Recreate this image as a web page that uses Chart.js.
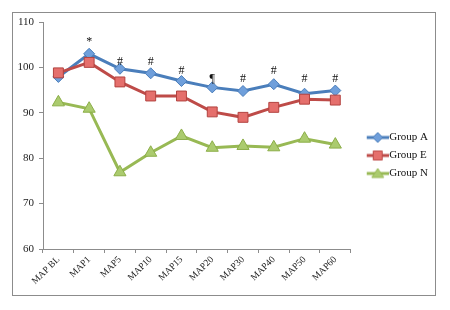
<!DOCTYPE html>
<html>
<head>
<meta charset="utf-8">
<script src="https://cdn.jsdelivr.net/npm/chart.js@4.4.1/dist/chart.umd.min.js"></script>
<style>
  html, body { margin: 0; padding: 0; background: #fff; }
  #wrap { width: 450px; height: 310px; }
</style>
</head>
<body>
<div id="wrap"><canvas id="mapChart" width="450" height="310"></canvas></div>
<script>
var categories = ['MAP BL', 'MAP1', 'MAP5', 'MAP10', 'MAP15', 'MAP20', 'MAP30', 'MAP40', 'MAP50', 'MAP60'];
var groupA = [97.9, 103.0, 99.7, 98.7, 97.0, 95.6, 94.8, 96.3, 94.2, 94.9];
var groupE = [98.8, 101.1, 96.8, 93.7, 93.7, 90.2, 89.0, 91.2, 93.0, 92.8];
var groupN = [92.3, 90.9, 76.9, 81.2, 84.9, 82.3, 82.7, 82.4, 84.3, 83.0];
var yTicks = [60, 70, 80, 90, 100, 110];
// significance marks above each time point, and the level they sit at
var marks = ['', '*', '#', '#', '#', '\u00b6', '#', '#', '#', '#'];
var markLevels = [null, 105.6, 101.2, 101.2, 99.2, 97.4, 97.4, 99.2, 97.4, 97.4];

// little line + marker picture for each legend entry
function legendIcon(line, fill, shape) {
    var c = document.createElement('canvas');
    c.width = 36; c.height = 14;
    var g = c.getContext('2d');
    g.strokeStyle = line;
    g.lineWidth = 3;
    g.beginPath(); g.moveTo(14, 7); g.lineTo(36, 7); g.stroke();
    g.fillStyle = fill;
    g.strokeStyle = line;
    g.lineWidth = 1;
    g.beginPath();
    if (shape === 'diamond') {
        g.moveTo(25, 2); g.lineTo(30, 7); g.lineTo(25, 12); g.lineTo(20, 7);
    } else if (shape === 'square') {
        g.rect(20.5, 2.5, 9, 9);
    } else {
        g.moveTo(25, 2); g.lineTo(31, 11); g.lineTo(19, 11);
    }
    g.closePath(); g.fill(); g.stroke();
    return c;
}

var frame = {
    id: 'frame',
    beforeDraw: function (chart) {
        var ctx = chart.ctx;
        ctx.save();
        ctx.fillStyle = '#fff';
        ctx.fillRect(0, 0, chart.width, chart.height);
        ctx.strokeStyle = '#8c8c8c';
        ctx.lineWidth = 1;
        ctx.strokeRect(12.5, 12.5, 423, 283);
        ctx.restore();
    },
    afterLayout: function (chart) {
        chart.legend.top -= 3;
        chart.legend.bottom -= 3;
    }
};

var markPlugin = {
    id: 'marks',
    afterDatasetsDraw: function (chart) {
        var ctx = chart.ctx, x = chart.scales.x, y = chart.scales.y;
        ctx.save();
        ctx.fillStyle = '#111';
        ctx.font = '12px "Liberation Serif", serif';
        ctx.textAlign = 'center';
        ctx.textBaseline = 'middle';
        marks.forEach(function (m, i) {
            if (!m) return;
            ctx.fillText(m, x.getPixelForValue(i), y.getPixelForValue(markLevels[i]));
        });
        ctx.restore();
    }
};

var ctx = document.getElementById('mapChart').getContext('2d');
var chart = new Chart(ctx, {
    type: 'line',
    data: {
        labels: categories,
        datasets: [{
            label: 'Group A',
            data: groupA,
            borderColor: '#4a7ebb',
            backgroundColor: '#6f9fdb',
            pointStyle: 'rectRot',
            pointRadius: 5.5,
            pointBorderColor: '#4a7ebb',
            pointBorderWidth: 1,
            order: 2
        }, {
            label: 'Group E',
            data: groupE,
            borderColor: '#be4b48',
            backgroundColor: '#e56f6c',
            pointStyle: 'rect',
            pointRadius: 7,
            pointBorderColor: '#b2423f',
            pointBorderWidth: 1,
            order: 1
        }, {
            label: 'Group N',
            data: groupN,
            borderColor: '#98b954',
            backgroundColor: '#abcb6e',
            pointStyle: 'triangle',
            pointRadius: 7,
            pointBorderColor: '#8cae48',
            pointBorderWidth: 1,
            order: 3
        }]
    },
    options: {
        responsive: false,
        animation: false,
        events: [],
        elements: {
            line: { borderWidth: 3, tension: 0, fill: false }
        },
        layout: { padding: { left: 12, top: 22, right: 12, bottom: 15 } },
        scales: {
            x: {
                offset: true,
                grid: { offset: true, drawOnChartArea: false, tickLength: 4, color: '#8c8c8c' },
                border: { color: '#8c8c8c' },
                ticks: {
                    minRotation: 45,
                    maxRotation: 45,
                    padding: 1,
                    color: '#222',
                    font: { family: '"Liberation Serif", serif', size: 9.5 }
                },
                afterFit: function (scale) { scale.height = 46; }
            },
            y: {
                min: yTicks[0],
                max: yTicks[yTicks.length - 1],
                afterBuildTicks: function (scale) {
                    scale.ticks = yTicks.map(function (v) { return { value: v }; });
                },
                grid: { drawOnChartArea: false, tickLength: 4, color: '#8c8c8c' },
                border: { color: '#8c8c8c' },
                ticks: {
                    padding: 5,
                    color: '#222',
                    font: { family: '"Liberation Serif", serif', size: 11 }
                },
                afterFit: function (scale) { scale.width = 31; }
            }
        },
        plugins: {
            tooltip: { enabled: false },
            legend: {
                position: 'right',
                labels: {
                    usePointStyle: true,
                    pointStyleWidth: 26,
                    padding: 7,
                    color: '#111',
                    font: { family: '"Liberation Serif", serif', size: 11 },
                    sort: function (a, b) { return a.datasetIndex - b.datasetIndex; },
                    generateLabels: function (chart) {
                        var shapes = ['diamond', 'square', 'triangle'];
                        return chart.data.datasets.map(function (ds, i) {
                            return {
                                text: ds.label,
                                datasetIndex: i,
                                fontColor: '#111',
                                lineWidth: 0,
                                strokeStyle: ds.borderColor,
                                fillStyle: ds.backgroundColor,
                                pointStyle: legendIcon(ds.borderColor, ds.backgroundColor, shapes[i])
                            };
                        });
                    }
                }
            }
        }
    },
    plugins: [frame, markPlugin]
});
</script>
</body>
</html>
